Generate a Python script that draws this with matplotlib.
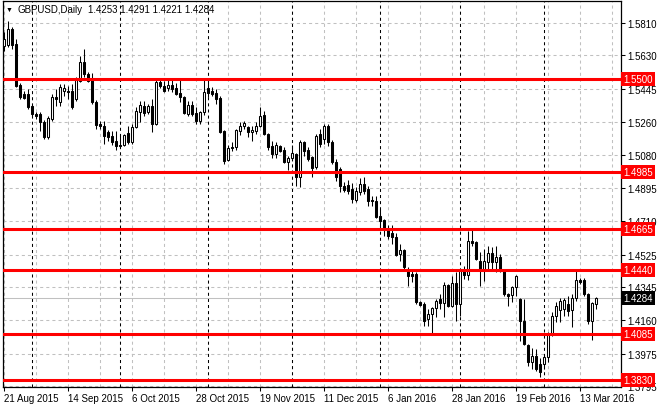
import numpy as np
import matplotlib
matplotlib.use('Agg')
import matplotlib.pyplot as plt
from matplotlib.transforms import blended_transform_factory

# daily GBPUSD bars, 21 Aug 2015 .. mid Mar 2016 (weekends skipped)
opens = [
    1.5682, 1.5688, 1.5776, 1.5693, 1.5466, 1.5416, 1.5416, 1.5349, 1.5305, 1.5305,
    1.5260, 1.5177, 1.5277, 1.5399, 1.5371, 1.5432, 1.5432, 1.5432, 1.5388, 1.5488,
    1.5593, 1.5527, 1.5505, 1.5371, 1.5249, 1.5238, 1.5205, 1.5183, 1.5155, 1.5133,
    1.5133, 1.5199, 1.5149, 1.5233, 1.5316, 1.5349, 1.5316, 1.5349, 1.5249, 1.5482,
    1.5460, 1.5449, 1.5466, 1.5449, 1.5421, 1.5399, 1.5305, 1.5355, 1.5310, 1.5266,
    1.5316, 1.5449, 1.5432, 1.5421, 1.5394, 1.5210, 1.5049, 1.5122, 1.5122, 1.5210,
    1.5238, 1.5233, 1.5205, 1.5210, 1.5238, 1.5299, 1.5194, 1.5127, 1.5083, 1.5127,
    1.5105, 1.5038, 1.5061, 1.5083, 1.4955, 1.5149, 1.5105, 1.5066, 1.5011, 1.5194,
    1.5166, 1.5238, 1.5149, 1.5038, 1.4999, 1.4905, 1.4911, 1.4888, 1.4827, 1.4872,
    1.4916, 1.4888, 1.4827, 1.4822, 1.4739, 1.4716, 1.4672, 1.4644, 1.4622, 1.4528,
    1.4550, 1.4444, 1.4417, 1.4417, 1.4261, 1.4250, 1.4167, 1.4195, 1.4228, 1.4278,
    1.4256, 1.4356, 1.4239, 1.4367, 1.4250, 1.4439, 1.4411, 1.4600, 1.4594, 1.4489,
    1.4439, 1.4483, 1.4533, 1.4483, 1.4511, 1.4433, 1.4306, 1.4300, 1.4345, 1.4278,
    1.4156, 1.4023, 1.3928, 1.3962, 1.3917, 1.3917, 1.3956, 1.4084, 1.4184, 1.4217,
    1.4222, 1.4250, 1.4217, 1.4284, 1.4383, 1.4383, 1.4306, 1.4156, 1.4253]
highs = [
    1.5760, 1.5821, 1.5788, 1.5721, 1.5477, 1.5432, 1.5443, 1.5360, 1.5316, 1.5316,
    1.5271, 1.5294, 1.5416, 1.5443, 1.5471, 1.5471, 1.5460, 1.5471, 1.5510, 1.5627,
    1.5665, 1.5538, 1.5532, 1.5382, 1.5266, 1.5266, 1.5216, 1.5210, 1.5210, 1.5194,
    1.5194, 1.5238, 1.5249, 1.5344, 1.5377, 1.5377, 1.5360, 1.5388, 1.5505, 1.5505,
    1.5488, 1.5499, 1.5493, 1.5477, 1.5493, 1.5405, 1.5377, 1.5377, 1.5344, 1.5321,
    1.5493, 1.5493, 1.5455, 1.5443, 1.5405, 1.5216, 1.5133, 1.5149, 1.5221, 1.5260,
    1.5266, 1.5238, 1.5238, 1.5260, 1.5344, 1.5321, 1.5199, 1.5155, 1.5149, 1.5133,
    1.5122, 1.5072, 1.5133, 1.5088, 1.5160, 1.5155, 1.5122, 1.5072, 1.5194, 1.5221,
    1.5249, 1.5249, 1.5160, 1.5055, 1.5011, 1.4927, 1.4938, 1.4922, 1.4900, 1.4950,
    1.4955, 1.4905, 1.4850, 1.4850, 1.4777, 1.4722, 1.4689, 1.4689, 1.4644, 1.4583,
    1.4555, 1.4456, 1.4444, 1.4428, 1.4267, 1.4261, 1.4222, 1.4234, 1.4278, 1.4306,
    1.4372, 1.4361, 1.4406, 1.4428, 1.4444, 1.4461, 1.4655, 1.4666, 1.4600, 1.4539,
    1.4555, 1.4572, 1.4567, 1.4572, 1.4528, 1.4444, 1.4311, 1.4350, 1.4411, 1.4284,
    1.4278, 1.4028, 1.4006, 1.4000, 1.3951, 1.3973, 1.4095, 1.4206, 1.4261, 1.4284,
    1.4284, 1.4295, 1.4306, 1.4444, 1.4395, 1.4395, 1.4311, 1.4261, 1.4291]
lows = [
    1.5654, 1.5677, 1.5665, 1.5455, 1.5388, 1.5388, 1.5332, 1.5288, 1.5277, 1.5210,
    1.5166, 1.5166, 1.5266, 1.5349, 1.5349, 1.5405, 1.5388, 1.5332, 1.5377, 1.5482,
    1.5510, 1.5482, 1.5360, 1.5221, 1.5221, 1.5138, 1.5155, 1.5133, 1.5105, 1.5122,
    1.5127, 1.5138, 1.5138, 1.5227, 1.5260, 1.5294, 1.5305, 1.5205, 1.5244, 1.5449,
    1.5427, 1.5432, 1.5427, 1.5410, 1.5371, 1.5305, 1.5294, 1.5294, 1.5249, 1.5249,
    1.5299, 1.5399, 1.5405, 1.5360, 1.5199, 1.5027, 1.5044, 1.5099, 1.5105, 1.5188,
    1.5221, 1.5177, 1.5155, 1.5194, 1.5233, 1.5188, 1.5105, 1.5061, 1.5061, 1.5094,
    1.5033, 1.4994, 1.5049, 1.4905, 1.4900, 1.5072, 1.5044, 1.4955, 1.4999, 1.5122,
    1.5138, 1.5127, 1.5027, 1.4933, 1.4872, 1.4872, 1.4861, 1.4811, 1.4816, 1.4855,
    1.4861, 1.4794, 1.4794, 1.4728, 1.4678, 1.4628, 1.4611, 1.4583, 1.4517, 1.4489,
    1.4444, 1.4350, 1.4372, 1.4250, 1.4239, 1.4128, 1.4128, 1.4084, 1.4178, 1.4222,
    1.4178, 1.4234, 1.4234, 1.4156, 1.4184, 1.4389, 1.4383, 1.4572, 1.4494, 1.4350,
    1.4378, 1.4444, 1.4444, 1.4428, 1.4428, 1.4295, 1.4239, 1.4261, 1.4295, 1.4045,
    1.4023, 1.3906, 1.3889, 1.3878, 1.3845, 1.3889, 1.3928, 1.4073, 1.4150, 1.4150,
    1.4184, 1.4184, 1.4123, 1.4267, 1.4361, 1.4295, 1.4139, 1.4050, 1.4221]
closes = [
    1.5721, 1.5776, 1.5688, 1.5460, 1.5399, 1.5394, 1.5344, 1.5305, 1.5294, 1.5260,
    1.5177, 1.5283, 1.5399, 1.5388, 1.5455, 1.5449, 1.5427, 1.5344, 1.5499, 1.5593,
    1.5527, 1.5488, 1.5371, 1.5244, 1.5238, 1.5183, 1.5177, 1.5149, 1.5127, 1.5130,
    1.5188, 1.5149, 1.5233, 1.5321, 1.5355, 1.5310, 1.5349, 1.5249, 1.5482, 1.5460,
    1.5432, 1.5466, 1.5443, 1.5416, 1.5399, 1.5310, 1.5355, 1.5305, 1.5266, 1.5316,
    1.5427, 1.5421, 1.5416, 1.5388, 1.5205, 1.5044, 1.5116, 1.5116, 1.5216, 1.5238,
    1.5255, 1.5205, 1.5216, 1.5238, 1.5294, 1.5194, 1.5122, 1.5083, 1.5133, 1.5099,
    1.5038, 1.5061, 1.5088, 1.4955, 1.5149, 1.5099, 1.5055, 1.5005, 1.5183, 1.5138,
    1.5238, 1.5149, 1.5038, 1.4955, 1.4905, 1.4883, 1.4877, 1.4833, 1.4877, 1.4916,
    1.4877, 1.4822, 1.4822, 1.4733, 1.4711, 1.4672, 1.4628, 1.4622, 1.4522, 1.4550,
    1.4456, 1.4406, 1.4406, 1.4261, 1.4245, 1.4156, 1.4195, 1.4228, 1.4267, 1.4256,
    1.4356, 1.4239, 1.4367, 1.4250, 1.4439, 1.4411, 1.4600, 1.4589, 1.4500, 1.4444,
    1.4489, 1.4533, 1.4483, 1.4511, 1.4433, 1.4306, 1.4295, 1.4345, 1.4406, 1.4156,
    1.4028, 1.3928, 1.3962, 1.3889, 1.3873, 1.3956, 1.4084, 1.4184, 1.4239, 1.4267,
    1.4272, 1.4211, 1.4284, 1.4383, 1.4372, 1.4306, 1.4156, 1.4256, 1.4284]

date_labels = ['21 Aug 2015', '14 Sep 2015', '6 Oct 2015', '28 Oct 2015', '19 Nov 2015',
               '11 Dec 2015', '6 Jan 2016', '28 Jan 2016', '19 Feb 2016', '13 Mar 2016']
month_starts = [7, 29, 51, 72, 94, 114, 135]   # bar index of the 1st trading day of each month
price_ticks = [1.5810, 1.5630, 1.5445, 1.5260, 1.5080, 1.4895,
               1.4710, 1.4525, 1.4345, 1.4160, 1.3975, 1.3795]
levels = [1.5500, 1.4985, 1.4665, 1.4440, 1.4085, 1.3830]
last_price = 1.4284

plt.rcParams['font.family'] = ['Liberation Sans', 'DejaVu Sans']
plt.rcParams['lines.scale_dashes'] = False

W, H = 660, 410
fig = plt.figure(figsize=(W / 100, H / 100), dpi=100)
ax = fig.add_axes([2.7 / W, 1 - 388 / H, 618 / W, 386 / H])

n = len(opens)
x = np.arange(n)
o = np.array(opens)
c = np.array(closes)
hi = np.array(highs)
lo = np.array(lows)

ax.set_xlim(-0.25, 154.25)
ax.set_ylim(1.3790, 1.5932)

# grid
for p in price_ticks:
    ax.axhline(p, color='#c0c0c0', lw=0.75, ls=(0, (2.2, 2.2)), zorder=0)
for k in range(0, 155, 8):
    ax.axvline(k, color='#c0c0c0', lw=0.75, ls=(0, (2.2, 2.2)), zorder=0)
for m in month_starts:
    ax.axvline(m, color='black', lw=0.75, ls=(0, (2.2, 2.2)), zorder=1)

ax.axhline(last_price, color='#c0c0c0', lw=0.75, zorder=1)

# candles
ax.vlines(x, lo, hi, color='black', lw=0.75, zorder=2)
up = c >= o
bottoms = np.minimum(o, c)
heights = np.maximum(np.abs(c - o), 0.00012)
ax.bar(x[up], heights[up], bottom=bottoms[up], width=0.5, color='white',
       edgecolor='black', linewidth=0.75, zorder=3)
ax.bar(x[~up], heights[~up], bottom=bottoms[~up], width=0.5, color='black',
       edgecolor='black', linewidth=0.75, zorder=3)

# horizontal levels
trans = blended_transform_factory(ax.transAxes, ax.transData)
for lv in levels:
    ax.axhline(lv, color='#ff0000', lw=2.2, zorder=4)
    ax.text(1.0 + 2.5 / 618, lv, '%.4f' % lv, transform=trans, ha='left', va='center',
            color='white', fontsize=7, clip_on=False, zorder=10,
            bbox=dict(boxstyle='square,pad=0.2', fc='#ff0000', ec='none'))
ax.text(1.0 + 2.5 / 618, last_price, '%.4f' % last_price, transform=trans, ha='left',
        va='center', color='white', fontsize=7, clip_on=False, zorder=10,
        bbox=dict(boxstyle='square,pad=0.2', fc='black', ec='none'))

# axes
ax.yaxis.tick_right()
ax.set_yticks(price_ticks)
ax.set_yticklabels(['%.4f' % p for p in price_ticks])
ax.set_xticks(np.arange(0, 16 * len(date_labels), 16))
ax.set_xticklabels(date_labels, ha='left')
ax.tick_params(axis='y', direction='out', length=3, width=0.75, labelsize=7, pad=1.5)
ax.tick_params(axis='x', direction='out', length=3, width=0.75, labelsize=7, pad=1.5)
for s in ax.spines.values():
    s.set_linewidth(0.9)
    s.set_color('black')

# header
fig.text(6 / W, 1 - 10 / H, '\u25bc', fontsize=5, va='center', ha='left')
fig.text(17 / W, 1 - 10 / H, 'GBPUSD,Daily', fontsize=7, va='center', ha='left')
fig.text(88 / W, 1 - 10 / H, '%.4f %.4f %.4f %.4f' % (opens[-1], highs[-1], lows[-1], closes[-1]),
         fontsize=7, va='center', ha='left')

fig.savefig('out.png', dpi=100)
